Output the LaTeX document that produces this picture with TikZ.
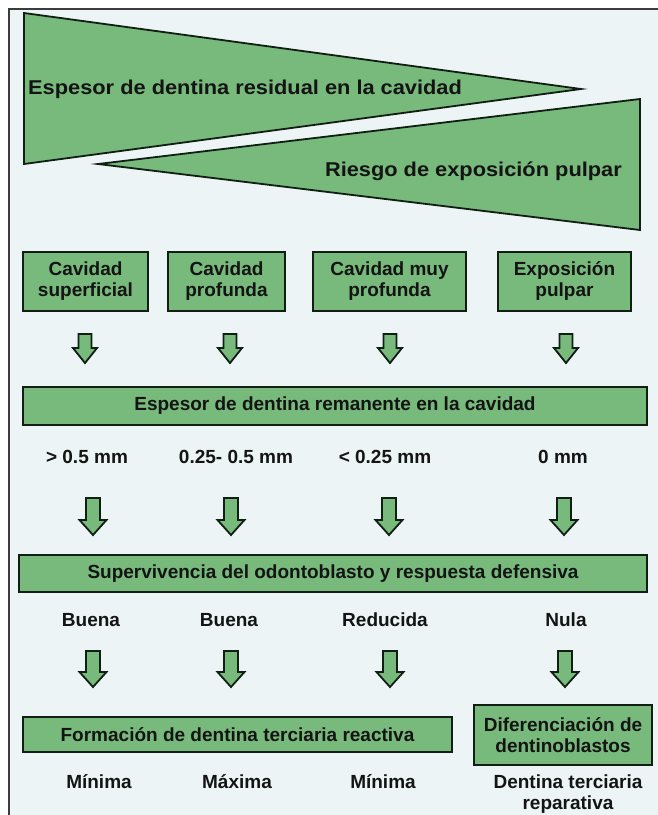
\documentclass[tikz,border=0pt]{standalone}
\usepackage{fontspec}
\setmainfont{Liberation Sans}
\usepackage{graphicx}
\definecolor{bgc}{RGB}{237,244,245}
\definecolor{gfill}{RGB}{120,185,124}
\definecolor{edge}{RGB}{16,30,20}
\definecolor{txt}{RGB}{20,20,20}
\definecolor{framec}{RGB}{60,60,60}
\newcommand\blkarrow[6]{%
  \draw[arrowshape] ({#1-#5/2},#2) -- ({#1+#5/2},#2) -- ({#1+#5/2},{#3-#4}) -- ({#1+#6/2},{#3-#4}) -- (#1,#3) -- ({#1-#6/2},{#3-#4}) -- ({#1-#5/2},{#3-#4}) -- cycle;}
\begin{document}
\begin{tikzpicture}[x=1pt,y=-1pt,
  box/.style={draw=edge,fill=gfill,line width=2pt,inner sep=0pt,align=center,text=txt,
    font=\bfseries\fontsize{19}{21}\selectfont},
  lbl/.style={inner sep=0pt,text=txt,font=\bfseries\fontsize{19}{21}\selectfont,align=center},
  tri/.style={draw=edge,fill=gfill,line width=1.8pt,line join=miter},
  toptxt/.style={inner sep=0pt,text=txt,font=\bfseries\fontsize{20}{24}\selectfont},
  arrowshape/.style={draw=edge,fill=gfill,line width=1.8pt,line join=miter}]
\useasboundingbox (0,0) rectangle (658,815);
\fill[white] (0,0) rectangle (658,815);
\fill[bgc] (9,9) rectangle (658,815);
\draw[framec,line width=1.5pt] (9,815) -- (9,9) -- (658,9);

% top wedges
\draw[tri] (24,13) -- (24,164) -- (581,89) -- cycle;
\draw[tri] (98,164) -- (640,99) -- (640,230) -- cycle;
\node[toptxt,anchor=west] (t1) at (28,89) {\scalebox{1.09}[1]{Espesor de dentina residual en la cavidad}};
\node[toptxt,anchor=east] (t2) at (622,171) {\scalebox{1.09}[1]{Riesgo de exposición pulpar}};

% row 1 boxes
\node[box,minimum width=125,minimum height=59] (c1) at (85.5,281) {Cavidad\\superficial};
\node[box,minimum width=117,minimum height=59] (c2) at (226.5,281) {Cavidad\\profunda};
\node[box,minimum width=153,minimum height=59] (c3) at (389.5,281) {Cavidad muy\\profunda};
\node[box,minimum width=133,minimum height=59] (c4) at (564.5,281) {Exposición\\pulpar};

\blkarrow{85}{334}{363}{15}{13}{24}
\blkarrow{230}{334}{363}{15}{13}{24}
\blkarrow{390}{334}{363}{15}{13}{24}
\blkarrow{566}{334}{363}{15}{13}{24}

\node[box,minimum width=624,minimum height=38] (esp) at (335,406) {Espesor de dentina remanente en la cavidad};

\node[lbl] (m1) at (87,457) {> 0.5 mm};
\node[lbl] (m2) at (236,457) {0.25- 0.5 mm};
\node[lbl] (m3) at (385,457) {< 0.25 mm};
\node[lbl] (m4) at (563,457) {0 mm};

\blkarrow{93}{498}{535}{15}{14}{27}
\blkarrow{231}{498}{535}{15}{14}{27}
\blkarrow{389}{498}{535}{15}{14}{27}
\blkarrow{564}{498}{535}{15}{14}{27}

\node[box,minimum width=628,minimum height=37] (sup) at (333,573.5) {Supervivencia del odontoblasto y respuesta defensiva};

\node[lbl] (s1) at (91,620) {Buena};
\node[lbl] (s2) at (229,620) {Buena};
\node[lbl] (s3) at (385,620) {Reducida};
\node[lbl] (s4) at (566,620) {Nula};

\blkarrow{93}{651}{687}{15}{14}{27}
\blkarrow{231}{651}{687}{15}{14}{27}
\blkarrow{390}{651}{687}{15}{14}{27}
\blkarrow{565}{651}{687}{15}{14}{27}

\node[box,minimum width=429,minimum height=35] (form) at (237.5,734.5) {Formación de dentina terciaria reactiva};
\node[box,minimum width=178,minimum height=60] (dif) at (563,735) {Diferenciación de\\dentinoblastos};

\node[lbl] (f1) at (99,782) {Mínima};
\node[lbl] (f2) at (237,782) {Máxima};
\node[lbl] (f3) at (383,782) {Mínima};
\node[lbl] (f4) at (568,794) {Dentina terciaria\\reparativa};
\end{tikzpicture}
\end{document}
